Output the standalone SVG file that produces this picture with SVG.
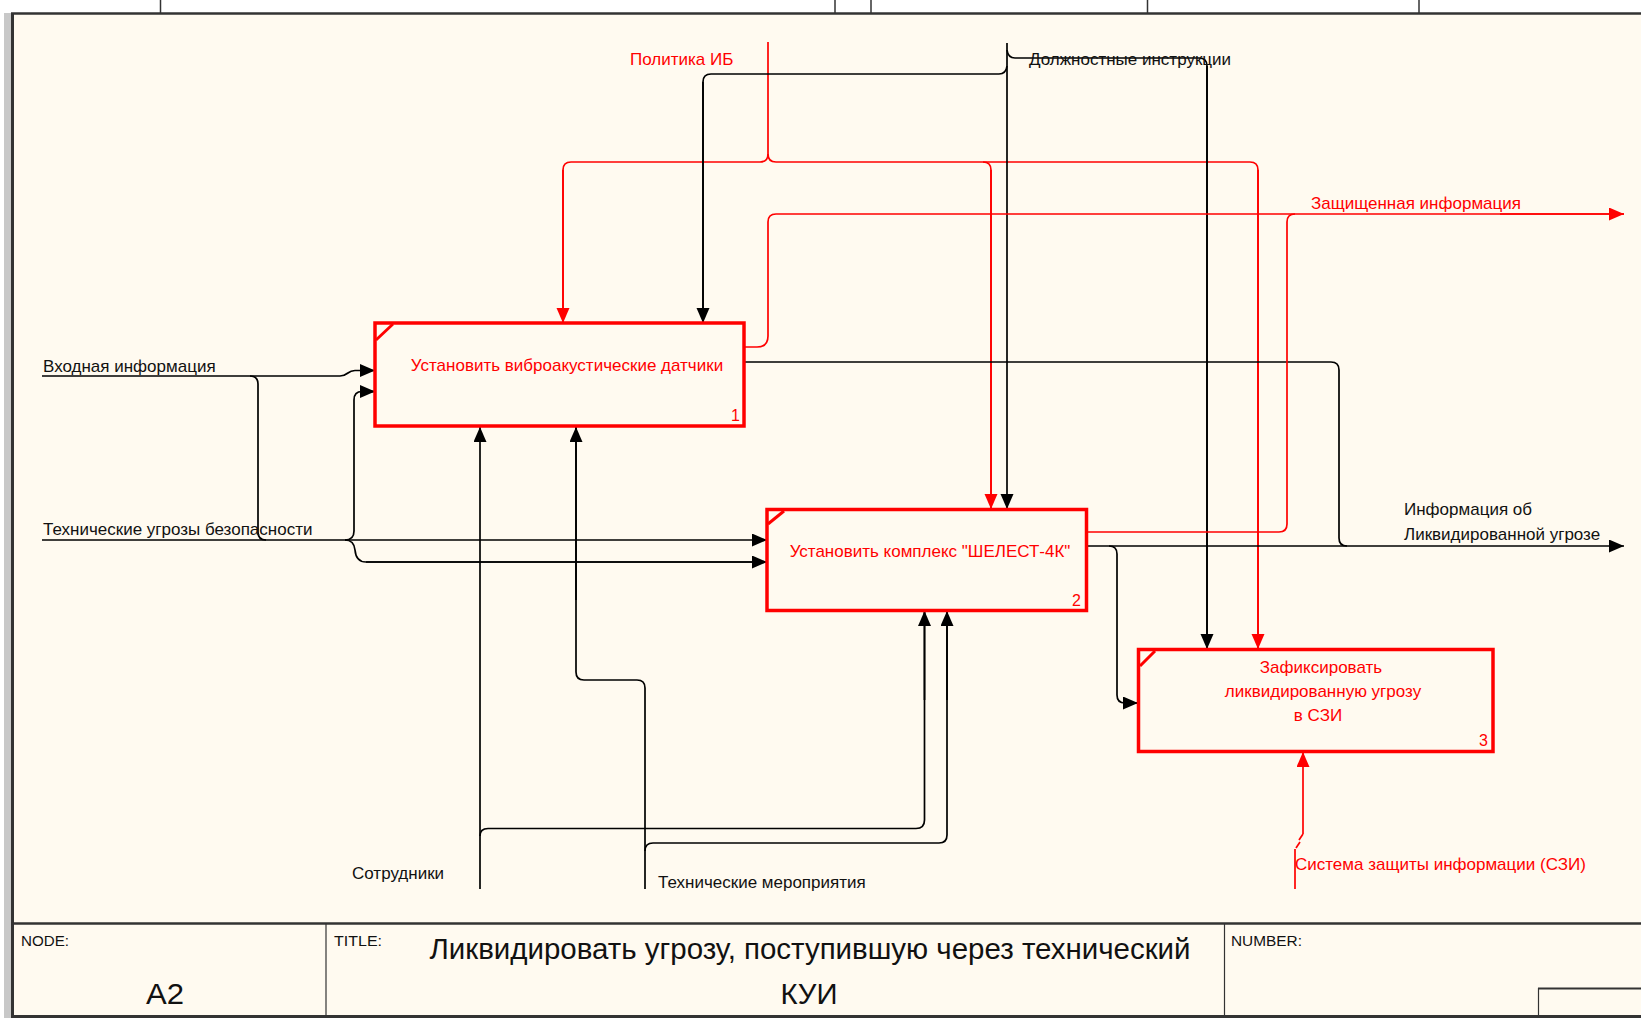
<svg xmlns="http://www.w3.org/2000/svg" width="1641" height="1018" viewBox="0 0 1641 1018">
<style>
  .lbl{font-family:"Liberation Sans",Arial,sans-serif;font-size:17px;fill:#111}
  .rlbl{font-family:"Liberation Sans",Arial,sans-serif;font-size:17px;fill:#ff0000}
  .btxt{font-family:"Liberation Sans",Arial,sans-serif;font-size:17px;fill:#ff0000;text-anchor:middle}
  .num{font-family:"Liberation Sans",Arial,sans-serif;font-size:16px;fill:#ff0000;text-anchor:end}
  .box{fill:none;stroke:#ff0000;stroke-width:3.5}
  .tick{stroke:#ff0000;stroke-width:3}
  .k{fill:none;stroke:#000;stroke-width:1.7}
  .r{fill:none;stroke:#ff0000;stroke-width:1.7}
  .ka{marker-end:url(#ak)}
  .ra{marker-end:url(#ar)}
  .frame{stroke:#333;fill:none}
  .small{font-family:"Liberation Sans",Arial,sans-serif;font-size:15px;fill:#111}
  .title{font-family:"Liberation Sans",Arial,sans-serif;font-size:30px;fill:#111;text-anchor:middle}
</style>
<defs>
  <marker id="ak" markerUnits="userSpaceOnUse" markerWidth="16" markerHeight="14" refX="15" refY="6.5" orient="auto">
    <path d="M0,0 L15,6.5 L0,13 z" fill="#000"/>
  </marker>
  <marker id="ar" markerUnits="userSpaceOnUse" markerWidth="16" markerHeight="14" refX="15" refY="6.5" orient="auto">
    <path d="M0,0 L15,6.5 L0,13 z" fill="#ff0000"/>
  </marker>
</defs>
<rect x="0" y="0" width="1641" height="1018" fill="#ffffff"/>
<rect x="12" y="13" width="1629" height="1005" fill="#fffaf0"/>
<g id="frame">
  <rect x="4" y="13" width="7" height="1005" fill="#c8c8c8"/>
  <line class="frame" x1="12.5" y1="13" x2="12.5" y2="1018" stroke-width="3"/>
  <line class="frame" x1="11" y1="13.5" x2="1641" y2="13.5" stroke-width="2.5"/>
  <line class="frame" x1="160.5" y1="0" x2="160.5" y2="13" stroke-width="1.5"/>
  <line class="frame" x1="835" y1="0" x2="835" y2="13" stroke-width="1.5"/>
  <line class="frame" x1="871" y1="0" x2="871" y2="13" stroke-width="1.5"/>
  <line class="frame" x1="1147.5" y1="0" x2="1147.5" y2="13" stroke-width="1.5"/>
  <line class="frame" x1="1419" y1="0" x2="1419" y2="13" stroke-width="1.5"/>
  <line class="frame" x1="11" y1="923.5" x2="1641" y2="923.5" stroke-width="2.5"/>
  <line class="frame" x1="11" y1="1016.5" x2="1641" y2="1016.5" stroke-width="3"/>
  <line class="frame" x1="326" y1="923" x2="326" y2="1016" stroke-width="1.2"/>
  <line class="frame" x1="1224.5" y1="923" x2="1224.5" y2="1016" stroke-width="1.2"/>
  <line class="frame" x1="1538" y1="988.5" x2="1641" y2="988.5" stroke-width="2"/>
  <line class="frame" x1="1538.5" y1="988" x2="1538.5" y2="1016" stroke-width="1.2"/>
  <text class="small" x="21" y="946" textLength="48" lengthAdjust="spacingAndGlyphs" font-size="16">NODE:</text>
  <text class="small" x="334" y="946" textLength="48" lengthAdjust="spacingAndGlyphs" font-size="16">TITLE:</text>
  <text class="small" x="1231" y="946" textLength="71" lengthAdjust="spacingAndGlyphs" font-size="16">NUMBER:</text>
  <text class="title" x="165" y="1004" font-size="34" textLength="38" lengthAdjust="spacingAndGlyphs">A2</text>
  <text class="title" x="810" y="959" textLength="761" lengthAdjust="spacingAndGlyphs">Ликвидировать угрозу, поступившую через технический</text>
  <text class="title" x="809" y="1004" font-size="33" textLength="57" lengthAdjust="spacingAndGlyphs">КУИ</text>
</g>
<g id="connectors">
  <!-- Политика ИБ -->
  <path class="r" d="M768,42 V154 Q768,162 760,162 H571 Q563,162 563,170 V323"/>
  <path class="r ra" d="M563,170 V323"/>
  <path class="r" d="M768,154 Q768,162 776,162 H1250 Q1258,162 1258,170 V649"/>
  <path class="r ra" d="M1258,170 V649"/>
  <path class="r" d="M983,162 Q991,162 991,170 V509"/>
  <path class="r ra" d="M991,170 V509"/>
  <!-- Должностные инструкции -->
  <path class="k ka" d="M1007,43 V509"/>
  <path class="k" d="M1007,50 Q1008,58 1015,58 H1199 Q1207,58 1207,66 V649"/>
  <path class="k ka" d="M1207,66 V649"/>
  <path class="k" d="M1007,66 Q1006,74 999,74 H711 Q703,74 703,82 V323"/>
  <path class="k ka" d="M703,82 V323"/>
  <!-- Входная информация -->
  <path class="k ka" d="M42,376 H340 C348,376 347,370.5 355,370.5 H375"/>
  <path class="k" d="M250,376 Q258,376 258,384 V532 Q258,540 266,540"/>
  <!-- Технические угрозы безопасности -->
  <path class="k ka" d="M42,540 H767"/>
  <path class="k" d="M345,540 Q354,540 354,531 V400 Q354,391.5 362,391.5 H375"/>
  <path class="k ka" d="M362,391.5 H375"/>
  <path class="k" d="M345,540 Q354,540 355,550 Q356,562 366,562 H767"/>
  <path class="k ka" d="M366,562 H767"/>
  <!-- Box 1 outputs -->
  <path class="r" d="M744,347 H757 Q768,347 768,336 V222 Q768,214 776,214 H1624"/>
  <path class="r ra" d="M1500,214 H1624"/>
  <path class="k" d="M744,362 H1331 Q1339,362 1339,370 V538 Q1339,546 1347,546"/>
  <!-- Box 2 outputs -->
  <path class="r" d="M1087,532 H1279 Q1287,532 1287,524 V222 Q1287,214 1295,214"/>
  <path class="k ka" d="M1087,546 H1624"/>
  <path class="k" d="M1109,546 Q1117,546 1117,554 V695 Q1117,703 1125,703 H1138"/>
  <path class="k ka" d="M1125,703 H1138"/>
  <!-- Сотрудники -->
  <path class="k ka" d="M480,889 V427"/>
  <path class="k" d="M480,836 Q480,828.5 488,828.5 H916 Q924.5,828.5 924.5,820 V611"/>
  <path class="k ka" d="M924.5,700 V611"/>
  <!-- Технические мероприятия -->
  <path class="k" d="M645,889 V688 Q645,680 637,680 H584 Q576,680 576,672 V427"/>
  <path class="k ka" d="M576,600 V427"/>
  <path class="k" d="M645,851 Q645,843 653,843 H939 Q947,843 947,835 V611"/>
  <path class="k ka" d="M947,700 V611"/>
  <!-- Система защиты информации -->
  <path class="r ra" d="M1303,834 V752"/>
  <path class="r" d="M1303,834 L1299,840 M1300,842 L1296,848 M1295,849 V889"/>
</g>
<g id="node1">
  <rect class="box" x="375" y="323" width="369" height="103"/>
  <line class="tick" x1="376" y1="340" x2="393" y2="324"/>
  <text class="btxt" x="567" y="371">Установить виброакустические датчики</text>
  <text class="num" x="740" y="421">1</text>
</g>
<g id="node2">
  <rect class="box" x="767" y="509.5" width="319.5" height="101"/>
  <line class="tick" x1="768" y1="524" x2="784" y2="511"/>
  <text class="btxt" x="930" y="557">Установить комплекс "ШЕЛЕСТ-4К"</text>
  <text class="num" x="1081" y="606">2</text>
</g>
<g id="node3">
  <rect class="box" x="1138.5" y="649.5" width="354.5" height="102"/>
  <line class="tick" x1="1140" y1="666" x2="1155" y2="651"/>
  <text class="btxt" x="1321" y="673">Зафиксировать</text>
  <text class="btxt" x="1323" y="697">ликвидированную угрозу</text>
  <text class="btxt" x="1318" y="721">в СЗИ</text>
  <text class="num" x="1488" y="746">3</text>
</g>
<g id="labels">
  <text class="rlbl" x="630" y="65">Политика ИБ</text>
  <text class="lbl" x="1029" y="65">Должностные инструкции</text>
  <text class="rlbl" x="1311" y="209">Защищенная информация</text>
  <text class="lbl" x="43" y="372">Входная информация</text>
  <text class="lbl" x="43" y="535">Технические угрозы безопасности</text>
  <text class="lbl" x="1404" y="515">Информация об</text>
  <text class="lbl" x="1404" y="540">Ликвидированной угрозе</text>
  <text class="lbl" x="352" y="879">Сотрудники</text>
  <text class="lbl" x="658" y="888">Технические мероприятия</text>
  <text class="rlbl" x="1295" y="870">Система защиты информации (СЗИ)</text>
</g>
</svg>
